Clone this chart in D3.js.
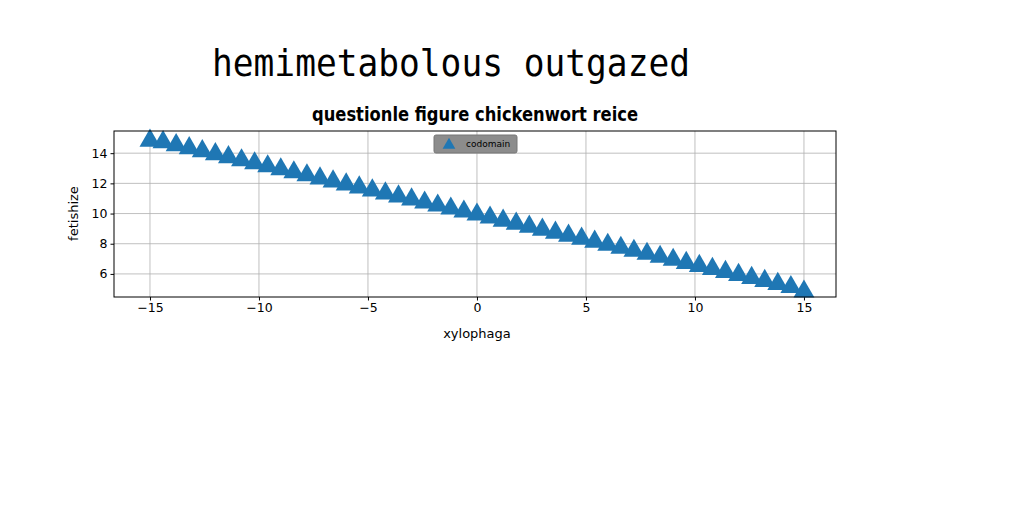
<!DOCTYPE html>
<html><head><meta charset="utf-8">
<script src="https://cdn.jsdelivr.net/npm/d3@7"></script>
<style>body{margin:0;background:#fff}</style>
</head><body>
<svg id="svg1"></svg>
<script>
const xValues = [-15,-14.4,-13.8,-13.2,-12.6,-12,-11.4,-10.8,-10.2,-9.6,-9,-8.4,-7.8,-7.2,-6.6,-6,-5.4,-4.8,-4.2,-3.6,-3,-2.4,-1.8,-1.2,-0.6,0,0.6,1.2,1.8,2.4,3,3.6,4.2,4.8,5.4,6,6.6,7.2,7.8,8.4,9,9.6,10.2,10.8,11.4,12,12.6,13.2,13.8,14.4,15];
const yValues = [14.9,14.8,14.6,14.4,14.2,14.0,13.8,13.6,13.4,13.2,13.0,12.8,12.6,12.4,12.2,12.0,11.8,11.6,11.4,11.2,11.0,10.8,10.6,10.4,10.2,10.0,9.8,9.6,9.4,9.2,9.0,8.8,8.6,8.4,8.2,8.0,7.8,7.6,7.4,7.2,7.0,6.8,6.6,6.4,6.2,6.0,5.8,5.6,5.4,5.2,4.9];
const xTicks = [-15,-10,-5,0,5,10,15];
const yTicks = [6,8,10,12,14];

const width = 1024, height = 512;
const margin = {top: 131, right: 188, bottom: 215, left: 114};
const svg = d3.select('#svg1').attr('width', width).attr('height', height);

let x = d3.scaleLinear().domain([-16.65, 16.47]).range([margin.left, width - margin.right]);
let y = d3.scaleLinear().domain([4.47, 15.47]).range([height - margin.bottom, margin.top]);

// grid
svg.append('g').selectAll('line').data(xTicks).join('line')
  .attr('x1', d => x(d)).attr('x2', d => x(d))
  .attr('y1', margin.top).attr('y2', height - margin.bottom)
  .attr('stroke', '#b0b0b0').attr('stroke-width', 0.8);
svg.append('g').selectAll('line').data(yTicks).join('line')
  .attr('y1', d => y(d)).attr('y2', d => y(d))
  .attr('x1', margin.left).attr('x2', width - margin.right)
  .attr('stroke', '#b0b0b0').attr('stroke-width', 0.8);

let xAxis = g => g
  .attr('transform', `translate(0,${height - margin.bottom})`)
  .call(d3.axisBottom(x).tickValues(xTicks).tickSize(3.5).tickFormat(d => d < 0 ? '\u2212' + (-d) : d))
  .call(g => g.select('.domain').remove());
let yAxis = g => g
  .attr('transform', `translate(${margin.left},0)`)
  .call(d3.axisLeft(y).tickValues(yTicks).tickSize(3.5))
  .call(g => g.select('.domain').remove());
svg.append('g').call(xAxis).attr('font-size', 12.5).attr('font-family', 'DejaVu Sans');
svg.append('g').call(yAxis).attr('font-size', 12.5).attr('font-family', 'DejaVu Sans');

// points
const data = xValues.map((v, i) => ({x: v, y: yValues[i]}));
const tri = d3.symbol().type(d3.symbolTriangle).size(190);
svg.append('g').selectAll('path').data(data).join('path')
  .attr('d', tri)
  .attr('transform', d => `translate(${x(d.x)},${y(d.y) + 1})`)
  .attr('fill', '#1f77b4');

svg.append('rect')
  .attr('x', margin.left).attr('y', margin.top)
  .attr('width', width - margin.right - margin.left)
  .attr('height', height - margin.bottom - margin.top)
  .attr('fill', 'none').attr('stroke', '#000').attr('stroke-width', 1);

// legend
const lg = svg.append('g').attr('transform', 'translate(434,135)');
lg.append('rect').attr('width', 83).attr('height', 18).attr('rx', 2)
  .attr('fill', '#8c8c8c').attr('stroke', '#777');
lg.append('path').attr('d', d3.symbol().type(d3.symbolTriangle).size(70))
  .attr('transform', 'translate(15,10)').attr('fill', '#1f77b4');
lg.append('text').attr('x', 32).attr('y', 12).attr('font-size', 9)
  .attr('font-family', 'DejaVu Sans').text('codomain');

// labels
svg.append('text').attr('x', x(0)).attr('y', 338).attr('text-anchor', 'middle')
  .attr('font-size', 13).attr('font-family', 'DejaVu Sans').text('xylophaga');
svg.append('text').attr('transform', `translate(78,${y(10)}) rotate(-90)`).attr('text-anchor', 'middle')
  .attr('font-size', 13).attr('font-family', 'DejaVu Sans').text('fetishize');
svg.append('text').attr('x', 475).attr('y', 121).attr('text-anchor', 'middle')
  .attr('font-size', 19).attr('font-weight', 'bold').attr('font-family', 'DejaVu Sans Condensed')
  .attr('textLength', 326).attr('lengthAdjust', 'spacingAndGlyphs')
  .text('questionle figure chickenwort reice');
svg.append('text').attr('x', 212).attr('y', 76)
  .attr('font-size', 38).attr('font-family', 'DejaVu Sans Mono')
  .attr('textLength', 478).attr('lengthAdjust', 'spacingAndGlyphs')
  .text('hemimetabolous outgazed');
</script>
</body></html>
